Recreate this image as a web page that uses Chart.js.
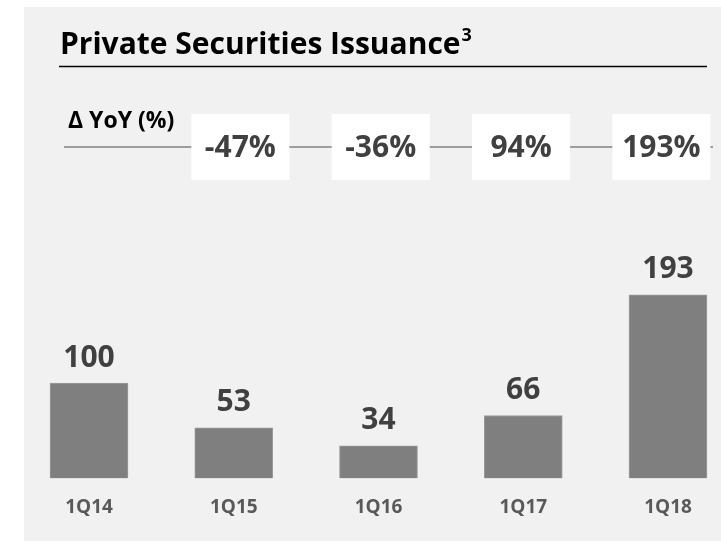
<!DOCTYPE html>
<html>
<head>
<meta charset="utf-8">
<script src="https://cdn.jsdelivr.net/npm/chart.js@4"></script>
<style>
  html, body { margin: 0; padding: 0; background: #fff; }
  #wrap { width: 721px; height: 541px; position: relative; }
</style>
</head>
<body>
<div id="wrap"><canvas id="issuanceChart"></canvas></div>
<script>
const quarters = ['1Q14', '1Q15', '1Q16', '1Q17', '1Q18'];
const issuanceIndex = [100, 53, 34, 66, 193];
const yoyChange = [-47, -36, 94, 193];
const yAxisMax = 300;

const FONT = '"Open Sans", "Noto Sans", sans-serif';

// fond gris + titre + ligne YoY
const panelPlugin = {
  id: 'panel',
  beforeDraw(chart) {
    const ctx = chart.ctx;
    ctx.save();
    ctx.fillStyle = '#ffffff';
    ctx.fillRect(0, 0, chart.width, chart.height);
    ctx.fillStyle = '#f1f1f1';
    ctx.fillRect(24, 7, chart.width - 24, chart.height - 7);

    // titre
    ctx.fillStyle = '#000';
    ctx.textBaseline = 'alphabetic';
    ctx.textAlign = 'left';
    ctx.font = 'bold 30px ' + FONT;
    const title = 'Private Securities Issuance';
    ctx.fillText(title, 60, 54);
    const w = ctx.measureText(title).width;
    ctx.font = 'bold 18px ' + FONT;
    ctx.fillText('3', 60 + w + 1, 41);

    ctx.strokeStyle = '#000';
    ctx.lineWidth = 1.3;
    ctx.beginPath();
    ctx.moveTo(59, 66.5);
    ctx.lineTo(707, 66.5);
    ctx.stroke();

    // Δ YoY
    ctx.font = 'bold 23px ' + FONT;
    ctx.fillText('\u0394 YoY (%)', 68, 128);

    ctx.strokeStyle = '#808080';
    ctx.lineWidth = 1.3;
    ctx.beginPath();
    ctx.moveTo(64, 147);
    ctx.lineTo(713, 147);
    ctx.stroke();

    const xScale = chart.scales.x;
    yoyChange.forEach((v, i) => {
      const idx = i + 1;
      const cx = xScale.getPixelForValue(idx) + (2.5 - idx) * 4.4;
      const cy = 147;
      ctx.fillStyle = '#ffffff';
      ctx.fillRect(cx - 49, cy - 33, 98, 66);
      ctx.fillStyle = '#404040';
      ctx.font = 'bold 30px ' + FONT;
      ctx.textAlign = 'center';
      ctx.textBaseline = 'middle';
      ctx.fillText(v + '%', cx, cy + 1);
    });
    ctx.restore();
  }
};

// valeurs au-dessus des barres
const valueLabels = {
  id: 'valueLabels',
  afterDatasetsDraw(chart) {
    const ctx = chart.ctx;
    const meta = chart.getDatasetMeta(0);
    ctx.save();
    ctx.fillStyle = '#404040';
    ctx.font = 'bold 30px ' + FONT;
    ctx.textAlign = 'center';
    ctx.textBaseline = 'middle';
    meta.data.forEach((bar, i) => {
      ctx.fillText(String(issuanceIndex[i]), bar.x, bar.y - 25);
    });
    ctx.restore();
  }
};

new Chart(document.getElementById('issuanceChart'), {
  type: 'bar',
  data: {
    labels: quarters,
    datasets: [{
      data: issuanceIndex,
      backgroundColor: '#7f7f7f',
      borderColor: '#9c9c9c',
      borderWidth: 1,
      barThickness: 78,
      clip: false
    }]
  },
  options: {
    responsive: true,
    maintainAspectRatio: false,
    animation: false,
    layout: { padding: { top: 193, left: 89, right: 53, bottom: 4 } },
    plugins: {
      legend: { display: false },
      tooltip: { enabled: false }
    },
    scales: {
      x: {
        offset: false,
        grid: { display: false, drawTicks: false },
        border: { display: false },
        ticks: {
          color: '#595959',
          padding: 18,
          font: { family: FONT, size: 19, weight: 'bold' }
        }
      },
      y: {
        display: false,
        min: 0,
        max: yAxisMax
      }
    }
  },
  plugins: [panelPlugin, valueLabels]
});
</script>
</body>
</html>
